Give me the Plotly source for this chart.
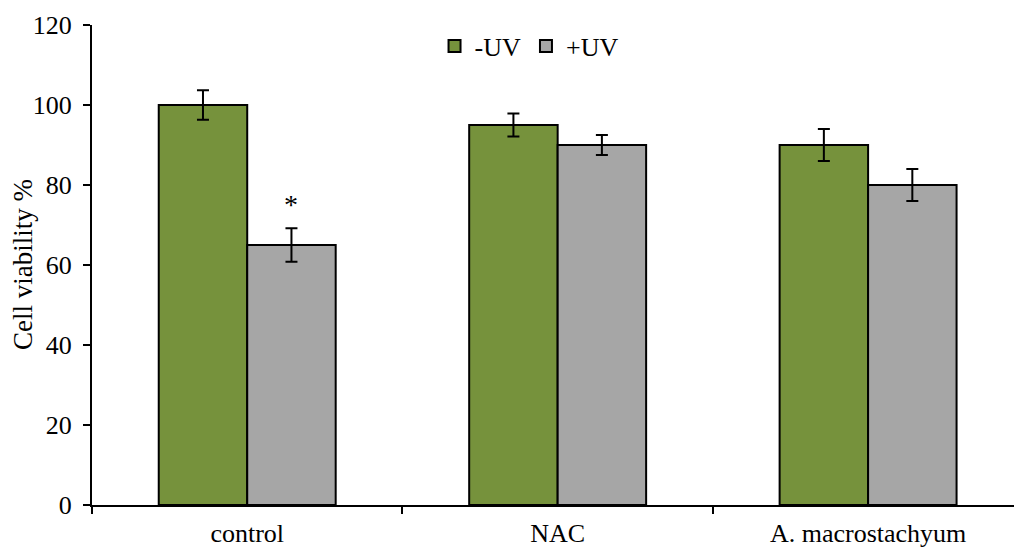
import plotly.graph_objects as go

categories = ["control", "NAC", "A. macrostachyum"]
minus_uv = [100, 95, 90]
minus_uv_err = [3.7, 2.9, 4.0]
plus_uv = [65, 90, 80]
plus_uv_err = [4.2, 2.5, 4.0]
y_ticks = [0, 20, 40, 60, 80, 100, 120]

GREEN = "#76923C"
GRAY = "#A6A6A6"
FONT = "Liberation Serif"
FS = 26

bargap = 0.43
bar_w = (1 - bargap) / 2

fig = go.Figure()
fig.add_trace(go.Bar(
    name="-UV", x=categories, y=minus_uv,
    marker=dict(color=GREEN, line=dict(color="black", width=2)),
    error_y=dict(type="data", array=minus_uv_err, color="black", thickness=2, width=6),
))
fig.add_trace(go.Bar(
    name="+UV", x=categories, y=plus_uv,
    marker=dict(color=GRAY, line=dict(color="black", width=2)),
    error_y=dict(type="data", array=plus_uv_err, color="black", thickness=2, width=6),
))

fig.add_annotation(
    x=0 + bar_w / 2, y=plus_uv[0] + plus_uv_err[0] + 6.0, xref="x", yref="y",
    text="*", showarrow=False, font=dict(family=FONT, size=28, color="black"),
)

# y-axis title as rotated annotation (positioned independently of tick-label width)
fig.add_annotation(
    x=0, y=0.5, xref="paper", yref="paper", xanchor="center", yanchor="middle",
    xshift=-69, text="Cell viability %", textangle=-90, showarrow=False,
    font=dict(family=FONT, size=27, color="black"),
)

fig.update_layout(
    width=1014, height=549,
    margin=dict(l=92, r=0, t=25, b=44, autoexpand=False),
    paper_bgcolor="white", plot_bgcolor="white",
    barmode="group", bargap=bargap, bargroupgap=0,
    font=dict(family=FONT, size=FS, color="black"),
    legend=dict(orientation="h", x=0.474, xanchor="center", y=1.005, yanchor="top",
                font=dict(family=FONT, size=FS), bgcolor="rgba(0,0,0,0)",
                itemwidth=30, tracegroupgap=0),
    showlegend=True,
)
fig.update_xaxes(
    type="category", range=[-0.5, 2.47], automargin=False,
    showline=True, linecolor="black", linewidth=2,
    ticks="outside", tickson="boundaries", ticklen=7, tickwidth=2, tickcolor="black",
    showgrid=False, zeroline=False,
    tickfont=dict(family=FONT, size=FS), ticklabelstandoff=4,
)
fig.update_yaxes(
    range=[0, 120], tickvals=y_ticks, automargin=False,
    showline=True, linecolor="black", linewidth=2,
    ticks="outside", ticklen=7, tickwidth=2, tickcolor="black",
    showgrid=False, zeroline=False,
    tickfont=dict(family=FONT, size=FS), ticklabelstandoff=6,
)

fig.write_html("out.html")
